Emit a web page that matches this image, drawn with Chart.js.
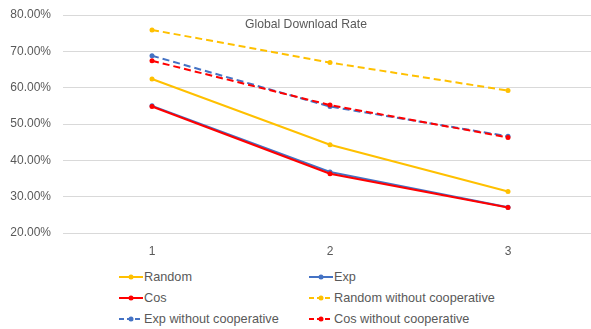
<!DOCTYPE html>
<html>
<head>
<meta charset="utf-8">
<script src="https://cdn.jsdelivr.net/npm/chart.js@4"></script>
<style>
    body { margin: 0; width: 591px; height: 329px; overflow: hidden; background: #fff; font-family: "Liberation Sans", Arial, sans-serif; }
    #wrap { position: absolute; left: 0; top: 0; width: 600px; height: 262px; }
    #title { position: absolute; top: 17px; left: 245px; font-size: 12.2px; color: #595959; white-space: nowrap; }
    #legend { position: absolute; left: 119px; top: 266px; display: grid; grid-template-columns: 190px 220px; grid-auto-rows: 21px; font-size: 12.7px; color: #595959; }
    .item { display: flex; align-items: center; height: 21px; white-space: nowrap; }
    .item svg { margin-right: 1px; }
</style>
</head>
<body>
<div id="wrap"><canvas id="rateChart"></canvas></div>
<div id="title">Global Download Rate</div>
<div id="legend"></div>
<script>
const categories = ['1', '2', '3'];
const randomRate = [0.624, 0.443, 0.314];
const expRate = [0.550, 0.368, 0.271];
const cosRate = [0.548, 0.363, 0.270];
const randomNoCoop = [0.759, 0.669, 0.592];
const expNoCoop = [0.688, 0.548, 0.466];
const cosNoCoop = [0.674, 0.552, 0.463];

const YELLOW = '#FFC000';
const BLUE = '#4472C4';
const RED = '#FF0000';
const DASH = [7, 4];

function series(label, data, color, dashed, order) {
    return {
        label: label,
        data: data,
        borderColor: color,
        backgroundColor: color,
        borderWidth: 2,
        borderDash: dashed ? DASH : [],
        pointRadius: 2.5,
        pointHoverRadius: 3,
        pointBorderWidth: 0,
        tension: 0,
        order: order
    };
}

const datasets = [
    series('Random', randomRate, YELLOW, false, 1),
    series('Exp', expRate, BLUE, false, 1),
    series('Cos', cosRate, RED, false, 0),
    series('Random without cooperative', randomNoCoop, YELLOW, true, 1),
    series('Exp without cooperative', expNoCoop, BLUE, true, 1),
    series('Cos without cooperative', cosNoCoop, RED, true, 0)
];

const ctx = document.getElementById('rateChart').getContext('2d');
const rateChart = new Chart(ctx, {
    type: 'line',
    data: { labels: categories, datasets: datasets },
    options: {
        responsive: true,
        maintainAspectRatio: false,
        animation: false,
        layout: { padding: { top: 15, right: 2, left: 0, bottom: 0 } },
        plugins: {
            legend: { display: false },
            tooltip: { enabled: false }
        },
        scales: {
            x: {
                offset: true,
                grid: { display: false, drawTicks: false },
                border: { display: false },
                ticks: { color: '#595959', font: { family: 'Liberation Sans', size: 12 }, padding: 11 },
                afterFit: (scale) => { scale.height = 29; scale.paddingLeft = 0; scale.paddingRight = 0; }
            },
            y: {
                min: 0.2,
                max: 0.8,
                grid: { color: '#d9d9d9', drawTicks: false },
                border: { display: false },
                ticks: {
                    stepSize: 0.1,
                    padding: 12,
                    color: '#595959',
                    font: { family: 'Liberation Sans', size: 12 },
                    callback: (v) => (v * 100).toFixed(2) + '%'
                },
                afterFit: (scale) => { scale.width = 63; scale.paddingTop = 0; scale.paddingBottom = 0; }
            }
        }
    }
});

// legend in two fixed columns, built from the dataset styles
const legend = document.getElementById('legend');
rateChart.data.datasets.forEach((ds) => {
    const item = document.createElement('div');
    item.className = 'item';
    const dash = ds.borderDash.length ? ' stroke-dasharray="5 3"' : '';
    item.innerHTML =
        '<svg width="24" height="8" viewBox="0 0 24 8">' +
        '<line x1="0" y1="4" x2="24" y2="4" stroke="' + ds.borderColor + '" stroke-width="2"' + dash + '/>' +
        '<circle cx="12" cy="4" r="2.5" fill="' + ds.borderColor + '"/></svg>';
    const text = document.createElement('span');
    text.textContent = ds.label;
    item.appendChild(text);
    legend.appendChild(item);
});
</script>
</body>
</html>
